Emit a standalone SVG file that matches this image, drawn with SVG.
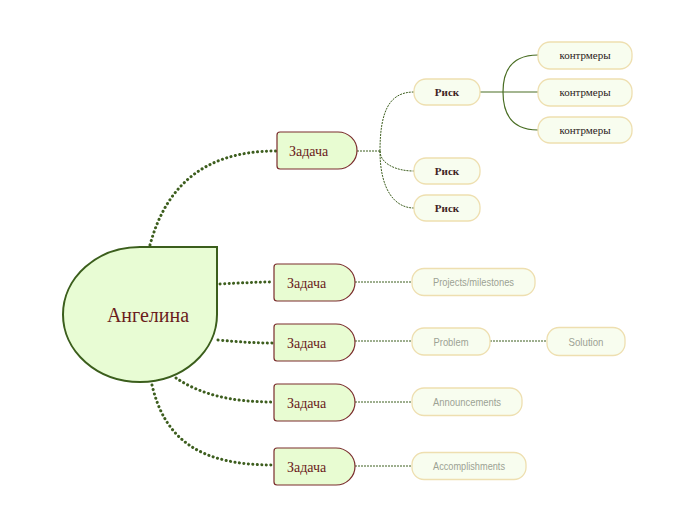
<svg xmlns="http://www.w3.org/2000/svg" width="696" height="520" viewBox="0 0 696 520">
<style>
.main{fill:#e8fcd4;stroke:#3b5e1c;stroke-width:2}
.task{fill:#e8fcd2;stroke:#7a2c2c;stroke-width:1.2}
.leaf{fill:#f8fdef;stroke:#eedfb0;stroke-width:1.3}
.thick{fill:none;stroke:#3d5e1e;stroke-width:3;stroke-dasharray:0.1 4.4;stroke-linecap:round}
.thin{fill:none;stroke:#3d5e1e;stroke-width:1;stroke-dasharray:2 1}
.solid{fill:none;stroke:#4a6e24;stroke-width:1.2}
.tt{font-family:"Liberation Serif",serif;font-size:14px;fill:#6b1c1c}
.rt{font-family:"Liberation Serif",serif;font-size:11px;font-weight:bold;fill:#3e2424;text-anchor:middle}
.kt{font-family:"Liberation Serif",serif;font-size:11px;fill:#2a1a1a;text-anchor:middle}
.gt{font-family:"Liberation Sans",sans-serif;font-size:11px;fill:#9ca294;text-anchor:middle}
</style>
<rect width="696" height="520" fill="#ffffff"/>
<g id="connectors">
<path class="thick" d="M150 245 C 165 190 200 151 276 151"/>
<path class="thick" d="M220 284 C 240 283 255 282 273 282"/>
<path class="thick" d="M218 340 C 240 342 255 343 273 343"/>
<path class="thick" d="M176 378 C 200 394 230 402 273 402"/>
<path class="thick" d="M152 385 C 165 440 200 465 273 465"/>
<path class="thin" d="M357 151 L 380 151"/>
<path class="thin" d="M380 151 C 380 110 390 92 414 92"/>
<path class="thin" d="M380 151 C 380 163 395 171 414 171"/>
<path class="thin" d="M380 151 C 380 190 395 208 414 208"/>
<path class="thin" d="M355 282 L 412 282"/>
<path class="thin" d="M355 341 L 412 341"/>
<path class="thin" d="M490 341 L 547 341"/>
<path class="thin" d="M355 402 L 412 402"/>
<path class="thin" d="M355 466 L 412 466"/>
<path class="solid" d="M480 92 L 538 92"/>
<path class="solid" d="M538 55 C 512 55 503 70 503 92 C 503 114 512 130 538 130"/>
</g>
<g id="root">
<path class="main" d="M140 247 L217 247 L217 314.5 A77 67.5 0 1 1 140 247 Z"/>
<text x="148" y="322" font-family="Liberation Serif, serif" font-size="20" fill="#6b1c1c" text-anchor="middle">Ангелина</text>
</g>
<g id="task1">
<path class="task" d="M280 132 L338 132 A19 18.5 0 0 1 338 169 L280 169 Q277 169 277 166 L277 135 Q277 132 280 132 Z"/>
<text class="tt" x="289" y="155.5">Задача</text>
</g>
<g id="task2">
<path class="task" d="M277 264 L336 264 A19 18.5 0 0 1 336 301 L277 301 Q274 301 274 298 L274 267 Q274 264 277 264 Z"/>
<text class="tt" x="287" y="287.5">Задача</text>
</g>
<g id="task3">
<path class="task" d="M277 324 L336 324 A19 18.5 0 0 1 336 361 L277 361 Q274 361 274 358 L274 327 Q274 324 277 324 Z"/>
<text class="tt" x="287" y="347.5">Задача</text>
</g>
<g id="task4">
<path class="task" d="M277 384 L336 384 A19 18.5 0 0 1 336 421 L277 421 Q274 421 274 418 L274 387 Q274 384 277 384 Z"/>
<text class="tt" x="287" y="407.5">Задача</text>
</g>
<g id="task5">
<path class="task" d="M277 448 L336 448 A19 18.5 0 0 1 336 485 L277 485 Q274 485 274 482 L274 451 Q274 448 277 448 Z"/>
<text class="tt" x="287" y="471.5">Задача</text>
</g>
<g id="risk1">
<rect class="leaf" x="414" y="79" width="66" height="26" rx="12"/>
<text class="rt" x="447" y="96">Риск</text>
</g>
<g id="risk2">
<rect class="leaf" x="414" y="158" width="66" height="26" rx="12"/>
<text class="rt" x="447" y="175">Риск</text>
</g>
<g id="risk3">
<rect class="leaf" x="414" y="195" width="66" height="26" rx="12"/>
<text class="rt" x="447" y="212">Риск</text>
</g>
<g id="counter1">
<rect class="leaf" x="538" y="42" width="94" height="27" rx="12"/>
<text class="kt" x="585" y="59">контрмеры</text>
</g>
<g id="counter2">
<rect class="leaf" x="538" y="79" width="94" height="27" rx="12"/>
<text class="kt" x="585" y="96">контрмеры</text>
</g>
<g id="counter3">
<rect class="leaf" x="538" y="117" width="94" height="26" rx="12"/>
<text class="kt" x="585" y="134">контрмеры</text>
</g>
<g id="projects">
<rect class="leaf" x="412" y="268.5" width="123" height="27" rx="12"/>
<text class="gt" x="473.5" y="286" textLength="81" lengthAdjust="spacingAndGlyphs">Projects/milestones</text>
</g>
<g id="problem">
<rect class="leaf" x="412" y="328" width="78" height="27" rx="12"/>
<text class="gt" x="451" y="345.5" textLength="35" lengthAdjust="spacingAndGlyphs">Problem</text>
</g>
<g id="solution">
<rect class="leaf" x="547" y="327.5" width="78" height="28" rx="12"/>
<text class="gt" x="586" y="345.5" textLength="35" lengthAdjust="spacingAndGlyphs">Solution</text>
</g>
<g id="announcements">
<rect class="leaf" x="412" y="388" width="110" height="27.5" rx="12"/>
<text class="gt" x="467" y="406" textLength="68" lengthAdjust="spacingAndGlyphs">Announcements</text>
</g>
<g id="accomplishments">
<rect class="leaf" x="412" y="452.5" width="114" height="27" rx="12"/>
<text class="gt" x="469" y="470" textLength="72" lengthAdjust="spacingAndGlyphs">Accomplishments</text>
</g>
</svg>
